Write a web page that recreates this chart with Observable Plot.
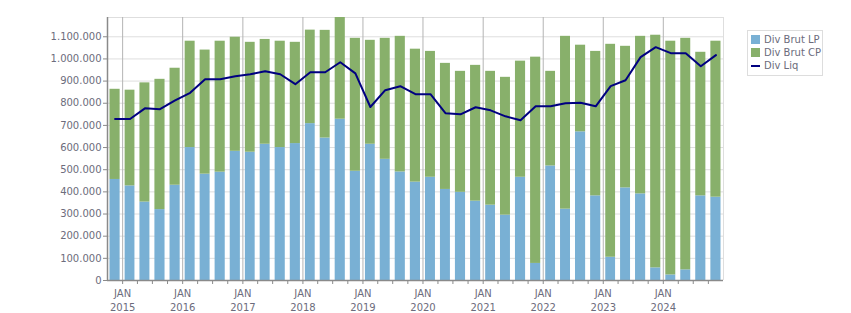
<!DOCTYPE html>
<html>
<head>
<meta charset="utf-8">
<script src="https://cdn.jsdelivr.net/npm/d3@7"></script>
<script src="https://cdn.jsdelivr.net/npm/@observablehq/plot@0.6"></script>
<style>
  body { margin: 0; background: #fff; }
  #chart { position: relative; width: 851px; height: 313px; font-family: "DejaVu Sans", Verdana, sans-serif; }
  #legend {
    position: absolute; left: 747px; top: 30px; width: 74px;
    padding: 2px 0 3px 0; border: 1px solid #dddddd; background: #fff;
    font-size: 10px; color: #6c6c7c;
  }
  #legend .item { display: flex; align-items: center; height: 13px; padding-left: 3px; white-space: nowrap; }
  #legend .sw { display: inline-block; width: 9px; height: 9px; margin-right: 4px; }
  #legend .ln { display: inline-block; width: 9px; height: 2px; margin-right: 4px; }
</style>
</head>
<body>
<div id="chart"></div>
<script>
// Quarterly dividends, in thousands
const quarters = [
  "2014-Q4",
  "2015-Q1", "2015-Q2", "2015-Q3", "2015-Q4",
  "2016-Q1", "2016-Q2", "2016-Q3", "2016-Q4",
  "2017-Q1", "2017-Q2", "2017-Q3", "2017-Q4",
  "2018-Q1", "2018-Q2", "2018-Q3", "2018-Q4",
  "2019-Q1", "2019-Q2", "2019-Q3", "2019-Q4",
  "2020-Q1", "2020-Q2", "2020-Q3", "2020-Q4",
  "2021-Q1", "2021-Q2", "2021-Q3", "2021-Q4",
  "2022-Q1", "2022-Q2", "2022-Q3", "2022-Q4",
  "2023-Q1", "2023-Q2", "2023-Q3", "2023-Q4",
  "2024-Q1", "2024-Q2", "2024-Q3", "2024-Q4"
];
const divBrutLP = [
  456,
  427, 354, 320, 430,
  600, 480, 489, 583,
  579, 615, 600, 618,
  708, 643, 728, 493,
  615, 547, 490, 444,
  466, 411, 398, 358,
  340, 295, 466, 77,
  517, 322, 671, 382,
  105, 418, 391, 57,
  25, 48, 382, 376
];
const divBrutCP = [
  407,
  432, 538, 588, 528,
  480, 560, 591, 515,
  496, 473, 480, 457,
  422, 486, 459, 600,
  469, 546, 612, 600,
  568, 569, 546, 613,
  604, 622, 524, 931,
  427, 780, 391, 652,
  961, 639, 711, 1050,
  1055, 1045, 648, 704
];
const divLiq = [
  729,
  729, 777, 773, 813,
  847, 908, 908, 922,
  931, 944, 931, 886,
  940, 940, 985, 935,
  783, 859, 877, 841,
  841, 755, 750, 782,
  768, 741, 723, 786,
  786, 800, 802, 786,
  877, 904, 1008, 1053,
  1026, 1026, 967, 1017
];
const seriesNames = ["Div Brut LP", "Div Brut CP", "Div Liq"];
const seriesColors = ["#79b0d4", "#88b06b", "#000080"];
const yearTicks = [2015, 2016, 2017, 2018, 2019, 2020, 2021, 2022, 2023, 2024];
const monthLabel = "JAN";
const yTicks = [0, 100000, 200000, 300000, 400000, 500000, 600000, 700000, 800000, 900000, 1000000, 1100000];

// Quarter spans and midpoints on the time axis
const rows = quarters.map((q, i) => {
  const [y, n] = q.split("-Q").map(Number);
  const start = new Date(Date.UTC(y, (n - 1) * 3, 1));
  const end = new Date(Date.UTC(y, n * 3, 1));
  return {
    start, end,
    mid: new Date((+start + +end) / 2),
    lp: divBrutLP[i] * 1000,
    cp: divBrutCP[i] * 1000,
    liq: divLiq[i] * 1000
  };
});
const stacked = rows.flatMap(r => [
  {x1: r.start, x2: r.end, series: seriesNames[0], value: r.lp},
  {x1: r.start, x2: r.end, series: seriesNames[1], value: r.cp}
]);

const xMin = rows[0].start;
const xMax = rows[rows.length - 1].end;
const yMax = d3.max(rows, r => r.lp + r.cp);
const yearDates = yearTicks.map(y => new Date(Date.UTC(y, 0, 1)));
const quarterDates = rows.map(r => r.end).filter(d => d.getUTCMonth() !== 0);

const fmt = d3.formatLocale({decimal: ",", thousands: ".", grouping: [3], currency: ["", ""]}).format(",d");

const chart = Plot.plot({
  width: 851,
  height: 313,
  marginLeft: 107,
  marginRight: 128,
  marginTop: 17,
  marginBottom: 33,
  style: {fontFamily: '"DejaVu Sans", Verdana, sans-serif', fontSize: "10px", color: "#6c6c7c", background: "#fff"},
  x: {type: "utc", domain: [xMin, xMax]},
  y: {domain: [0, yMax], nice: false},
  color: {domain: seriesNames.slice(0, 2), range: seriesColors.slice(0, 2)},
  marks: [
    Plot.gridY(yTicks, {stroke: "#dedede", strokeOpacity: 1}),
    Plot.ruleY([yMax], {stroke: "#dedede"}),
    Plot.ruleX([xMax], {stroke: "#dedede"}),
    Plot.gridX(yearDates, {stroke: "#b4b4b4", strokeOpacity: 1}),
    Plot.rectY(stacked, {x1: "x1", x2: "x2", y: "value", fill: "series", insetLeft: 2.5, insetRight: 2.5}),
    Plot.lineY(rows, {x: "mid", y: "liq", stroke: seriesColors[2], strokeWidth: 2}),
    Plot.ruleX([xMin], {stroke: "#8a8a8a", strokeWidth: 1.5}),
    Plot.ruleY([0], {stroke: "#8a8a8a", strokeWidth: 1.5}),
    Plot.axisY(yTicks, {tickSize: 4, tickPadding: 2, tickFormat: fmt, stroke: "#8a8a8a", fill: "#6c6c7c"}),
    Plot.axisX(yearDates, {tickSize: 4, tickPadding: 3, lineHeight: 1.4, stroke: "#8a8a8a", fill: "#6c6c7c",
      tickFormat: d => monthLabel + "\n" + d.getUTCFullYear()}),
    Plot.axisX(quarterDates, {tickSize: 4, tickFormat: () => "", stroke: "#8a8a8a"})
  ]
});

const host = document.getElementById("chart");
host.appendChild(chart);

// Legend box to the right of the plot area
const legend = document.createElement("div");
legend.id = "legend";
seriesNames.forEach((name, i) => {
  const item = document.createElement("div");
  item.className = "item";
  const sw = document.createElement("span");
  sw.className = i < 2 ? "sw" : "ln";
  sw.style.background = seriesColors[i];
  item.appendChild(sw);
  item.appendChild(document.createTextNode(name));
  legend.appendChild(item);
});
host.appendChild(legend);
</script>
</body>
</html>
